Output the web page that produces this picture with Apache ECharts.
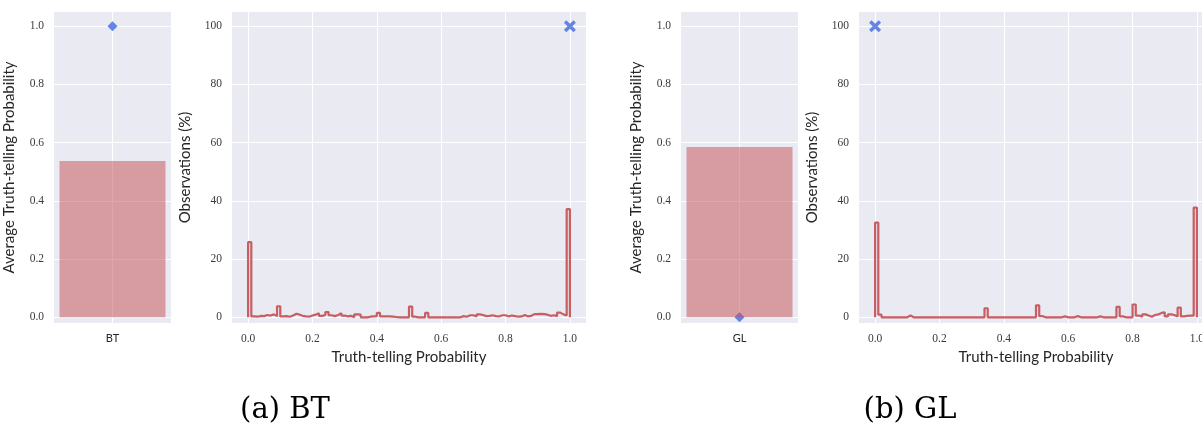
<!DOCTYPE html>
<html>
<head>
<meta charset="utf-8">
<script src="https://cdn.jsdelivr.net/npm/echarts@6/dist/echarts.min.js"></script>
<style>
  html, body { margin: 0; padding: 0; background: #ffffff; overflow: hidden; }
  /* the last panel runs past the right edge of the page, so the canvas is wider than the view */
  #chart { width: 1240px; height: 425px; }
</style>
</head>
<body>
<div id="chart"></div>
<script>
// Mechanisms compared in the two panels
const mechanisms = ['BT', 'GL'];
const captions = ['(a) BT', '(b) GL'];

// Observed average truth-telling probability per mechanism
const avgTruthTelling = [0.537, 0.585];
// Theoretical prediction for the average (diamond)
const predictedAvg = [1.0, 0.0];
// Theoretical prediction for the distribution: probability and share (%) (X marker)
const predictedProb = [1.0, 0.0];
const predictedShare = [100, 100];

// Share of observations (%) per bin of truth-telling probability, 100 equal bins on [0, 1]
const histBT = [
  25.8, 0.3, 0.2, 0.5, 0.4, 0.8, 0.6, 1.0, 0.4, 3.8,
  0.3, 0.4, 0.2, 0.6, 1.2, 0.9, 0.5, 0.3, 0.2, 0.6,
  0.9, 1.4, 0.5, 0.8, 1.8, 0.7, 0.4, 0.8, 1.4, 0.6,
  0.3, 0.5, 0.0, 1.0, 0.9, 0.0, 0.0, 0.2, 0.3, 0.4,
  1.5, 0.3, 0.3, 0.3, 0.2, 0.1, 0.0, 0.0, 0.0, 0.0,
  3.7, 0.2, 0.0, 0.0, 0.0, 1.5, 0.0, 0.0, 0.0, 0.0,
  0.0, 0.0, 0.0, 0.0, 0.0, 0.0, 0.4, 0.2, 0.7, 0.7,
  0.3, 1.0, 0.8, 0.4, 0.5, 0.7, 0.4, 0.3, 0.7, 0.7,
  0.3, 0.6, 0.4, 0.2, 0.3, 0.8, 0.3, 0.5, 1.1, 1.1,
  1.2, 1.1, 0.9, 0.5, 0.7, 0.4, 1.6, 1.0, 0.6, 37.2
];
const histGL = [
  32.5, 0.9, 0.0, 0.0, 0.0, 0.0, 0.0, 0.0, 0.0, 0.0,
  0.6, 0.0, 0.0, 0.0, 0.0, 0.0, 0.0, 0.0, 0.0, 0.0,
  0.0, 0.0, 0.0, 0.0, 0.0, 0.0, 0.0, 0.0, 0.0, 0.0,
  0.0, 0.0, 0.0, 0.0, 3.1, 0.0, 0.0, 0.0, 0.0, 0.0,
  0.0, 0.0, 0.0, 0.0, 0.0, 0.0, 0.0, 0.0, 0.0, 0.0,
  4.1, 0.4, 0.0, 0.0, 0.0, 0.0, 0.0, 0.0, 0.3, 0.0,
  0.0, 0.0, 0.4, 0.0, 0.0, 0.0, 0.0, 0.0, 0.0, 0.3,
  0.0, 0.0, 0.0, 0.0, 0.0, 3.6, 0.3, 0.0, 0.0, 0.0,
  4.4, 0.6, 0.2, 1.0, 0.6, 0.2, 0.8, 1.0, 1.5, 1.7,
  0.3, 1.0, 0.8, 0.3, 3.3, 0.3, 0.5, 0.6, 0.6, 37.7
];
const histograms = [histBT, histGL];

// Tick values
const barYTicks = [0, 0.2, 0.4, 0.6, 0.8, 1.0];
const histXTicks = [0, 0.2, 0.4, 0.6, 0.8, 1.0];
const histYTicks = [0, 20, 40, 60, 80, 100];

// Styling
const PANEL_BG = '#EAEAF2';
const RED = '#C44E52';
const BLUE = '#4169E1';
const TEXT = '#262626';
const TICK_FONT = '"Liberation Serif", "DejaVu Serif", serif';
const LABEL_FONT = 'Lato, "Open Sans", sans-serif';
const X_MARK = 'path://M2,0 L5,3 L8,0 L10,2 L7,5 L10,8 L8,10 L5,7 L2,10 L0,8 L3,5 L0,2 Z';

// Outline of a step histogram from bin heights
function stepOutline(heights) {
  const w = 1 / heights.length;
  const pts = [[0, 0]];
  heights.forEach((h, i) => {
    pts.push([i * w, h]);
    pts.push([(i + 1) * w, h]);
  });
  pts.push([1, 0]);
  return pts;
}

// Panel geometry (left edges), shared vertical placement
const barLeft = [54, 681];
const histLeft = [232, 859];
const TOP = 12, HEIGHT = 311;
const captionX = [285, 910];

const grids = [], xAxes = [], yAxes = [], series = [], graphics = [];

const splitLine = { show: true, lineStyle: { color: '#ffffff', width: 1 } };
const tickLabel = { color: '#3a3a3a', fontFamily: TICK_FONT, fontSize: 11.5 };
const titleStyle = { color: TEXT, fontFamily: LABEL_FONT, fontSize: 15 };

mechanisms.forEach((name, k) => {
  // ---- average bar panel
  const gb = grids.length;
  grids.push({ left: barLeft[k], top: TOP, width: 117, height: HEIGHT,
    show: true, backgroundColor: PANEL_BG, borderWidth: 0 });
  xAxes.push({
    type: 'value', gridIndex: gb, min: -0.44, max: 0.44,
    axisLine: { show: false }, axisTick: { show: false, customValues: [0] },
    axisLabel: { customValues: [0], formatter: () => name, color: TEXT,
      fontFamily: LABEL_FONT, fontSize: 11, margin: 10 },
    splitLine: splitLine
  });
  yAxes.push({
    type: 'value', gridIndex: gb, min: -0.0196, max: 1.049,
    name: 'Average Truth-telling Probability', nameLocation: 'middle', nameGap: 37,
    nameTextStyle: titleStyle,
    axisLine: { show: false }, axisTick: { show: false, customValues: barYTicks },
    axisLabel: { customValues: barYTicks, formatter: v => v.toFixed(1), margin: 10, ...tickLabel },
    splitLine: splitLine
  });
  series.push({
    type: 'scatter', xAxisIndex: gb, yAxisIndex: gb, z: 1,
    symbol: 'diamond', symbolSize: 10,
    itemStyle: { color: BLUE },
    data: [[0, predictedAvg[k]]]
  });
  series.push({
    type: 'bar', xAxisIndex: gb, yAxisIndex: gb, z: 2,
    barWidth: 106,
    itemStyle: { color: 'rgba(196,78,82,0.5)' },
    data: [[0, avgTruthTelling[k]]]
  });

  // ---- distribution panel
  const gh = grids.length;
  grids.push({ left: histLeft[k], top: TOP, width: 354, height: HEIGHT,
    show: true, backgroundColor: PANEL_BG, borderWidth: 0 });
  xAxes.push({
    type: 'value', gridIndex: gh, min: -0.05, max: 1.05,
    name: 'Truth-telling Probability', nameLocation: 'middle', nameGap: 24,
    nameTextStyle: titleStyle,
    axisLine: { show: false }, axisTick: { show: false, customValues: histXTicks },
    axisLabel: { customValues: histXTicks, formatter: v => v.toFixed(1), margin: 10, ...tickLabel },
    splitLine: splitLine
  });
  yAxes.push({
    type: 'value', gridIndex: gh, min: -1.96, max: 104.9,
    name: 'Observations (%)', nameLocation: 'middle', nameGap: 39,
    nameTextStyle: titleStyle,
    axisLine: { show: false }, axisTick: { show: false, customValues: histYTicks },
    axisLabel: { customValues: histYTicks, formatter: v => String(v), margin: 10, ...tickLabel },
    splitLine: splitLine
  });
  series.push({
    type: 'line', xAxisIndex: gh, yAxisIndex: gh, z: 2,
    showSymbol: false, symbol: 'none', clip: false,
    lineStyle: { color: RED, width: 2.2, opacity: 0.9 },
    data: stepOutline(histograms[k])
  });
  series.push({
    type: 'scatter', xAxisIndex: gh, yAxisIndex: gh, z: 3, clip: false,
    symbol: X_MARK, symbolSize: 12,
    itemStyle: { color: BLUE },
    data: [[predictedProb[k], predictedShare[k]]]
  });

  graphics.push({
    type: 'text', x: captionX[k], y: 410,
    style: { text: captions[k], font: '29px "DejaVu Serif", serif',
      fill: '#000000', textAlign: 'center', textVerticalAlign: 'middle' }
  });
});

const chart = echarts.init(document.getElementById('chart'), null, { renderer: 'canvas' });
chart.setOption({
  animation: false,
  backgroundColor: '#ffffff',
  grid: grids,
  xAxis: xAxes,
  yAxis: yAxes,
  series: series,
  graphic: graphics
});
</script>
</body>
</html>
